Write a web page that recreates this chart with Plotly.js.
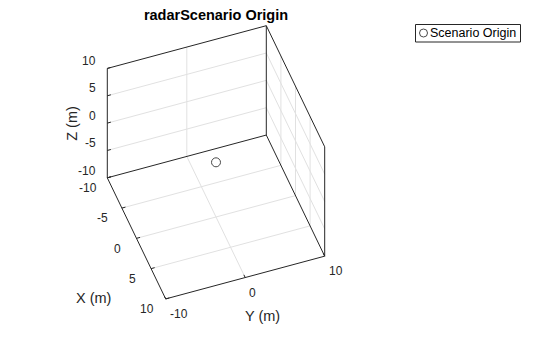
<!DOCTYPE html>
<html>
<head>
<meta charset="utf-8">
<script src="https://cdn.plot.ly/plotly-3.0.1.min.js"></script>
<style>html,body{margin:0;padding:0;background:#fff;}#chart{width:560px;height:337px;}</style>
</head>
<body>
<div id="chart"></div>
<script>
// ---------------- Data ----------------
const originX = [0];
const originY = [0];
const originZ = [0];
const seriesName = "Scenario Origin";
const xRange = [-10, 10];
const yRange = [-10, 10];
const zRange = [-10, 10];
const xTicks = [-10, -5, 0, 5, 10];
const yTicks = [-10, 0, 10];
const zTicks = [-10, -5, 0, 5, 10];
const xLabel = "X (m)";
const yLabel = "Y (m)";
const zLabel = "Z (m)";
const chartTitle = "radarScenario Origin";

// ---------------- 3D view (orthographic, MATLAB-like az/el) ----------------
const W = 560, H = 337;
const view = {az: 70.2, el: 48.3, sx: 8.62, sy: 8.45, sz: 8.22, cx: 216, cy: 162.3};
const phi = (view.az - 90) * Math.PI / 180, el = view.el * Math.PI / 180;
function P(x, y, z) {
  const h = -Math.sin(phi) * view.sx * x + Math.cos(phi) * view.sy * y;
  const v = Math.sin(el) * (Math.cos(phi) * view.sx * x + Math.sin(phi) * view.sy * y) - Math.cos(el) * view.sz * z;
  return [h, v];
}
function seg(list, a, b) {
  const p = P(...a), q = P(...b);
  list.x.push(p[0], q[0], null); list.y.push(p[1], q[1], null);
}
const [x0, x1] = xRange, [y0, y1] = yRange, [z0, z1] = zRange;
const inner = (t, r) => t > r[0] && t < r[1];

// grid lines on the three back planes
const grid = {x: [], y: []};
xTicks.filter(t => inner(t, xRange)).forEach(t => { seg(grid, [t, y0, z0], [t, y1, z0]); seg(grid, [t, y1, z0], [t, y1, z1]); });
yTicks.filter(t => inner(t, yRange)).forEach(t => { seg(grid, [x0, t, z0], [x1, t, z0]); seg(grid, [x0, t, z0], [x0, t, z1]); });
zTicks.filter(t => inner(t, zRange)).forEach(t => { seg(grid, [x0, y0, t], [x0, y1, t]); seg(grid, [x0, y1, t], [x1, y1, t]); });

// box outline of the back planes
const box = {x: [], y: []};
[[[x0,y0,z0],[x1,y0,z0]], [[x1,y0,z0],[x1,y1,z0]], [[x1,y1,z0],[x0,y1,z0]], [[x0,y1,z0],[x0,y0,z0]],
 [[x0,y0,z0],[x0,y0,z1]], [[x0,y1,z0],[x0,y1,z1]], [[x1,y1,z0],[x1,y1,z1]],
 [[x0,y0,z1],[x0,y1,z1]], [[x0,y1,z1],[x1,y1,z1]]].forEach(e => seg(box, e[0], e[1]));

// tick marks
const tl = 0.45;
const ticks = {x: [], y: []};
zTicks.forEach(t => seg(ticks, [x0, y0, t], [x0, y0 + tl, t]));
xTicks.forEach(t => seg(ticks, [t, y0, z0], [t, y0 + tl, z0]));
yTicks.forEach(t => seg(ticks, [x1, t, z0], [x1 - tl, t, z0]));

const op = originX.map((_, i) => P(originX[i], originY[i], originZ[i]));

const font = 'Liberation Sans, Arial, sans-serif';
const axC = '#262626';
const traces = [
  {type: 'scatter', mode: 'lines', x: grid.x, y: grid.y, line: {color: '#e1e1e1', width: 1}, hoverinfo: 'skip', showlegend: false},
  {type: 'scatter', mode: 'lines', x: box.x, y: box.y, line: {color: axC, width: 1}, hoverinfo: 'skip', showlegend: false},
  {type: 'scatter', mode: 'lines', x: ticks.x, y: ticks.y, line: {color: axC, width: 1}, hoverinfo: 'skip', showlegend: false},
  {type: 'scatter', mode: 'markers', name: seriesName, x: op.map(p => p[0]), y: op.map(p => p[1]),
   marker: {symbol: 'circle-open', size: 9, color: '#4a4a4a', line: {width: 1, color: '#4a4a4a'}}, showlegend: false}
];

const ann = [];
function lab(pt, text, opts) {
  const p = P(...pt);
  ann.push(Object.assign({x: p[0], y: p[1], xref: 'x', yref: 'y', text: String(text), showarrow: false,
    font: {family: font, size: 12, color: axC}}, opts));
}
zTicks.forEach(t => lab([x0, y0, t], t, {xanchor: 'right', yanchor: 'middle', xshift: -9.5, yshift: 7.3}));
xTicks.forEach(t => lab([t, y0, z0], t, {xanchor: 'center', yanchor: 'middle', xshift: -19, yshift: -10.3}));
yTicks.forEach(t => lab([x1, t, z0], t, {xanchor: 'left', yanchor: 'middle', xshift: 2, yshift: -15}));
const tf = {family: font, size: 14.5, color: axC};
lab([0, y0, z0], xLabel, {xanchor: 'center', yanchor: 'middle', xshift: -43.2, yshift: -59.8, font: tf});
lab([x1, 0, z0], yLabel, {xanchor: 'center', yanchor: 'middle', xshift: 17.3, yshift: -38.5, font: tf});
lab([x0, y0, 0], zLabel, {xanchor: 'center', yanchor: 'middle', xshift: -35.6, yshift: 0, textangle: -90, font: tf});

// legend box (drawn like MATLAB's compact legend)
const px = v => v / W, py = v => 1 - v / H;
ann.push({xref: 'paper', yref: 'paper', x: px(428), y: py(33), xanchor: 'left', yanchor: 'middle', showarrow: false,
  text: seriesName, font: {family: font, size: 12.5, color: '#000'}});
const shapes = [
  {type: 'rect', xref: 'paper', yref: 'paper', x0: px(415.5), x1: px(520.5), y0: py(24.5), y1: py(42), line: {color: axC, width: 1}, fillcolor: 'rgba(255,255,255,0)'},
  {type: 'circle', xref: 'paper', yref: 'paper', x0: px(419.5), x1: px(427.5), y0: py(29), y1: py(37), line: {color: '#4a4a4a', width: 1}}
];

const layout = {
  width: W, height: H,
  margin: {l: 0, r: 0, t: 0, b: 0},
  paper_bgcolor: '#fff', plot_bgcolor: '#fff',
  showlegend: false,
  title: {text: '<b>' + chartTitle + '</b>', x: view.cx / W, xanchor: 'center', y: 1 - 14.5 / H, yanchor: 'middle',
          font: {family: font, size: 14.5, color: '#000'}},
  xaxis: {visible: false, range: [-view.cx, W - view.cx], fixedrange: true},
  yaxis: {visible: false, range: [H - view.cy, -view.cy], fixedrange: true},
  annotations: ann,
  shapes: shapes
};

Plotly.newPlot('chart', traces, layout, {displayModeBar: false, staticPlot: true});
</script>
</body>
</html>
